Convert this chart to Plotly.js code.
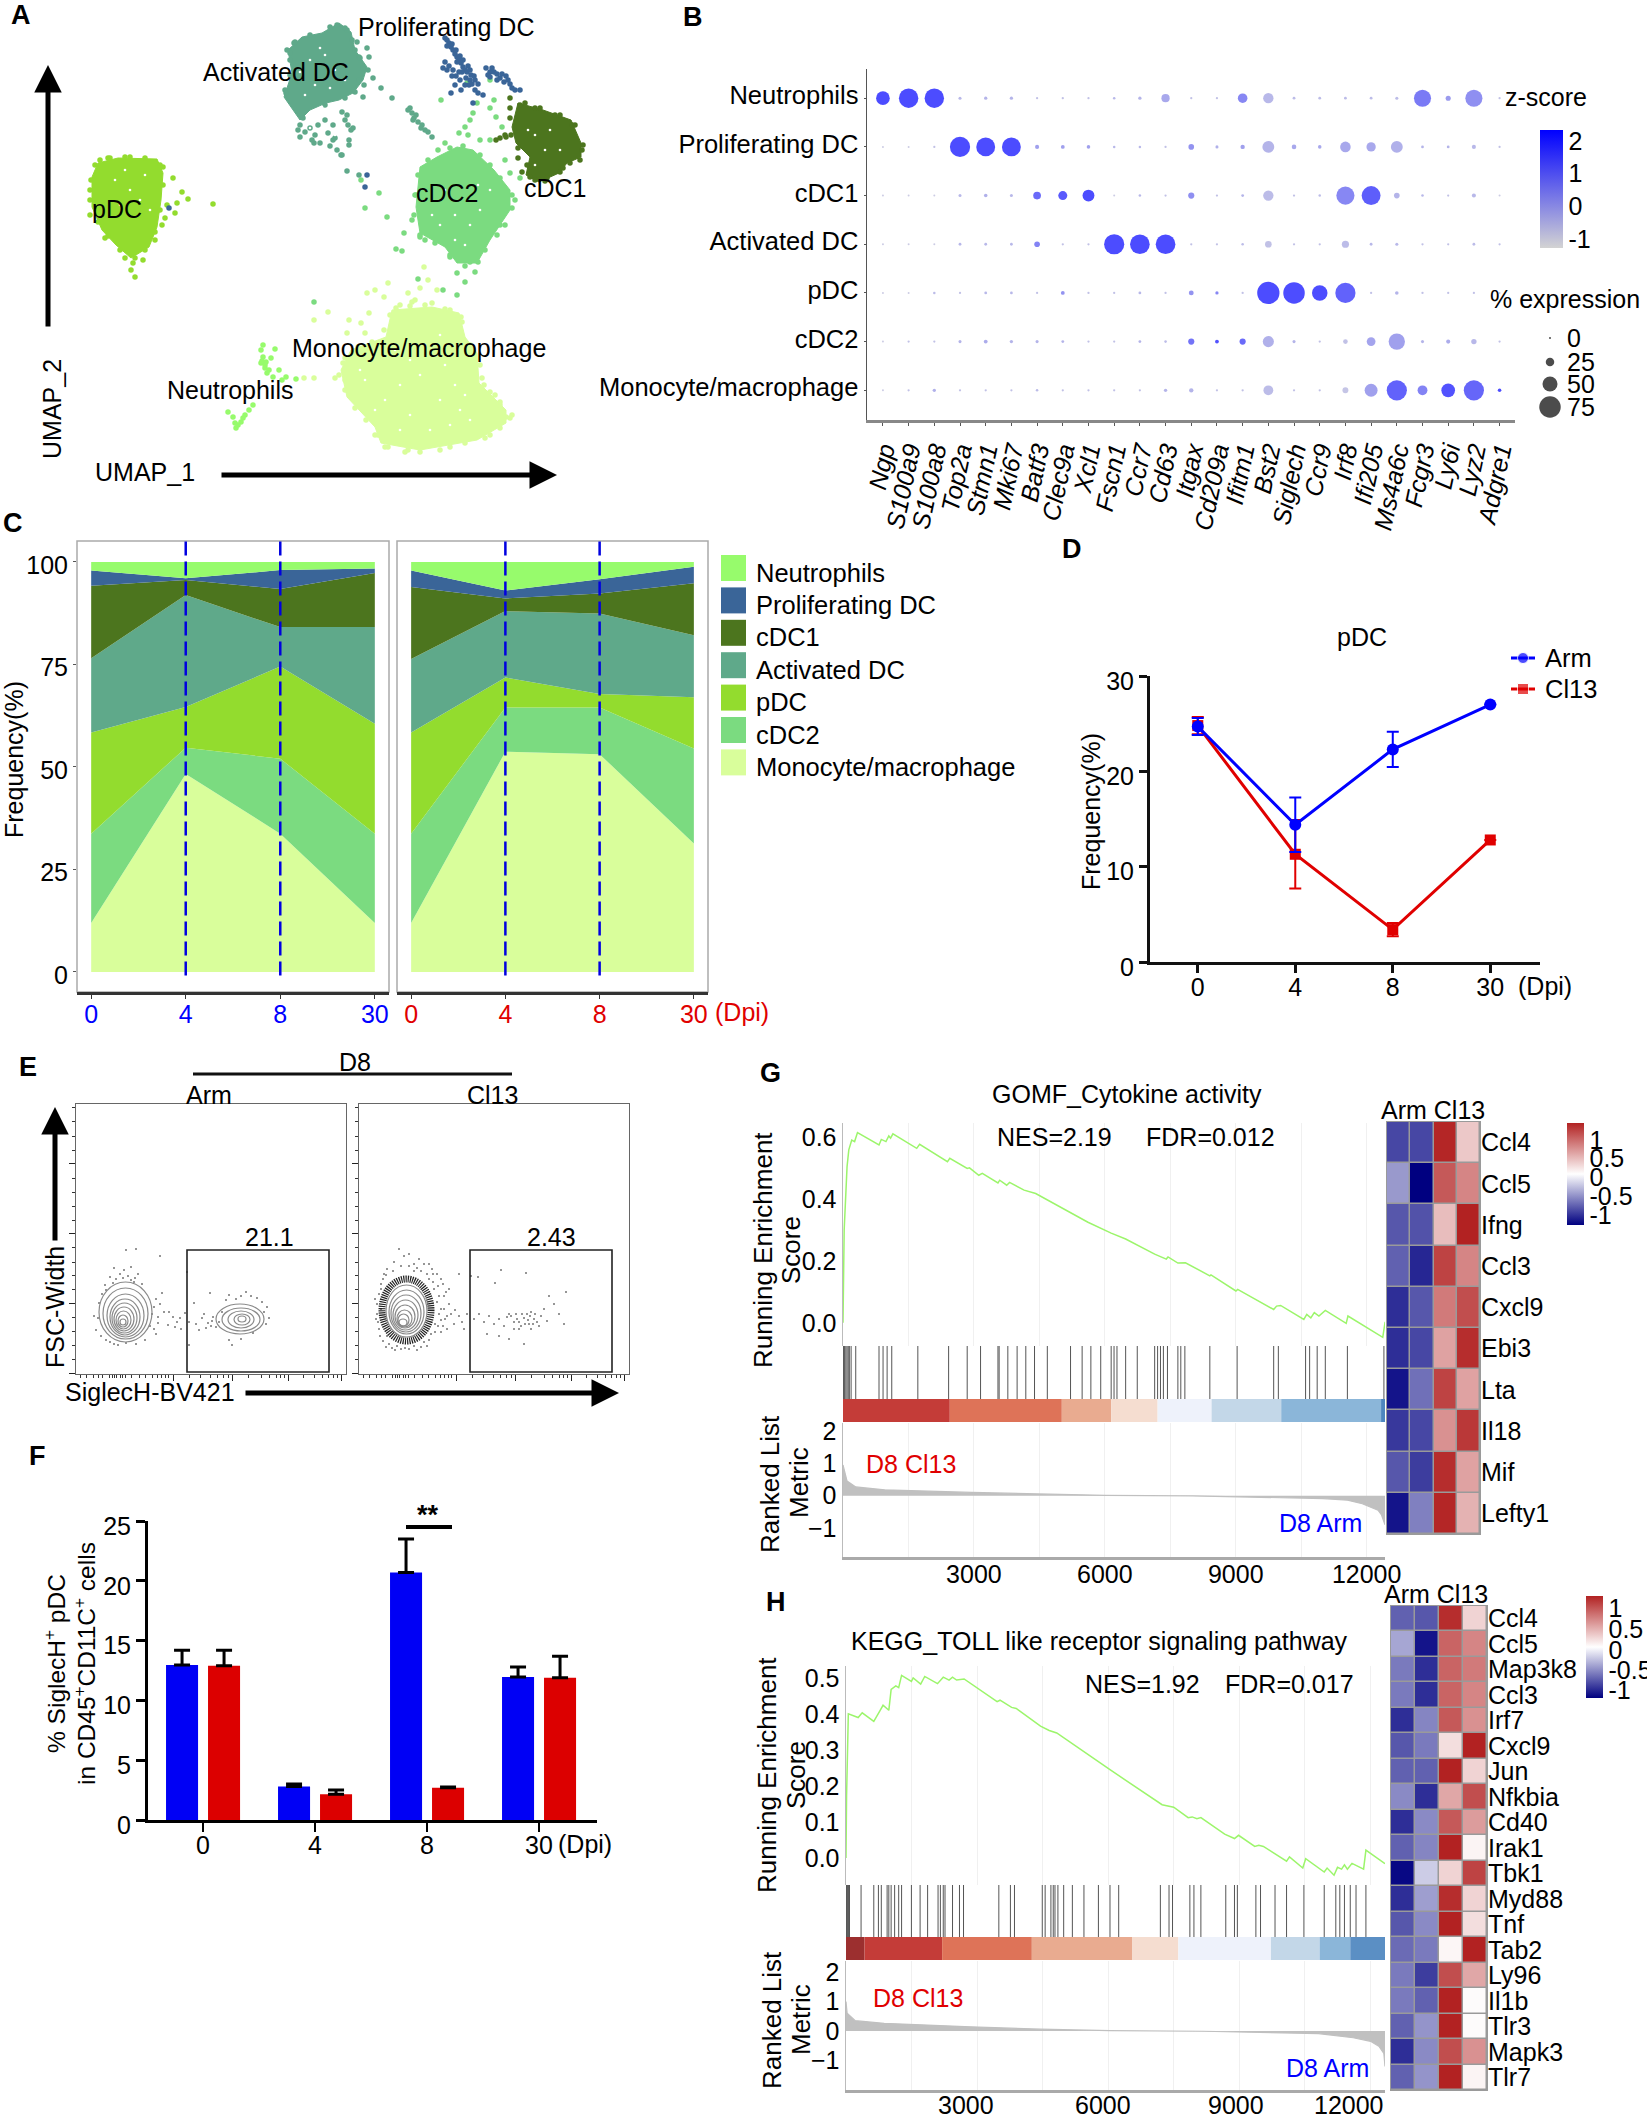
<!DOCTYPE html>
<html>
<head>
<meta charset="utf-8">
<script src="https://cdn.plot.ly/plotly-3.0.1.min.js"></script>
<style>body{margin:0;background:#fff}</style>
</head>
<body>
<div id="fig" style="width:1647px;height:2115px"></div>
<script>
// panel A, umap clusters (outline of the dense part + loose cells)
var clusterNames = ['Neutrophils','Proliferating DC','cDC1','Activated DC','pDC','cDC2','Monocyte/macrophage'];
var clusterColors = ['#97fb6c','#3a6598','#4c751e','#5fa98a','#93dc2e','#7bdb80','#d9fe9b'];

var monoBody = [[392,310],[432,307],[459,313],[465,337],[477,353],[479,383],[506,410],[506,423],[477,440],[420,450],[381,443],[375,427],[347,397],[341,370],[351,350],[386,337]];
var monoCells = [[424,267],[428,280],[420,288],[408,293],[412,302],[388,283],[375,290],[367,293],[384,297],[369,313],[349,320],[347,333],[361,323],[335,378],[314,378],[304,378],[328,312],[314,320],[437,290],[500,405],[506,417],[408,450],[420,452],[388,447],[351,393],[343,363],[365,333],[390,315],[461,317],[400,305],[415,300],[432,303],[450,310],[470,345],[484,385],[495,395],[512,415],[490,435],[450,447],[375,435],[345,380],
  [396,308],[410,306],[425,305],[445,309],[462,322],[468,345],[480,365],[482,378],[490,392],[500,402],[510,418],[500,428],[485,438],[465,443],[440,450],[405,452],[385,447],[378,435],[366,420],[355,408],[345,390],[339,375],[345,358],[358,347],[372,342],[384,330]];
var cdc2Body = [[457,147],[473,150],[494,170],[510,190],[510,210],[490,240],[477,263],[457,263],[445,247],[420,233],[416,207],[420,167],[437,157]];
var cdc2Cells = [[465,127],[473,113],[477,103],[459,133],[445,143],[490,140],[496,117],[502,127],[510,173],[520,178],[379,193],[365,208],[387,217],[404,233],[420,237],[396,249],[402,251],[457,273],[465,282],[443,290],[457,295],[418,279],[314,302],[361,180],[490,80],[467,83],[490,108],[441,100],[494,100],[470,120],[468,135],[480,140],[515,200],[505,225],[497,235],[475,272],[470,262],[415,195],[412,220],[425,240],[450,257],[438,150],[505,160],
  [450,148],[463,146],[480,155],[490,165],[500,178],[512,195],[512,208],[500,225],[485,250],[478,262],[465,266],[450,255],[435,243],[420,235],[414,215],[416,195],[418,175],[428,160]];
var pdcBody = [[98,163],[118,158],[157,159],[163,173],[161,200],[157,227],[149,247],[131,258],[116,245],[102,230],[92,207],[92,177]];
var pdcCells = [[163,167],[173,178],[182,192],[188,199],[177,203],[167,205],[213,204],[175,213],[165,218],[143,260],[133,263],[131,270],[135,277],[100,160],[108,158],[130,157],[90,190],[90,215],[105,238],[162,225],[155,240],[125,258],
  [95,165],[110,158],[125,157],[145,158],[160,165],[163,185],[160,210],[155,232],[145,250],[135,258],[120,250],[108,236],[98,222],[90,200],[91,180]];
var activatedBody = [[339,23],[351,32],[355,50],[367,67],[363,80],[353,93],[339,100],[326,103],[310,110],[300,120],[284,97],[292,73],[288,50],[302,37],[322,33]];
var activatedCells = [[337,25],[347,30],[357,42],[367,48],[359,57],[369,57],[363,68],[359,80],[373,78],[381,88],[392,98],[363,97],[410,108],[416,115],[422,125],[428,132],[432,137],[347,115],[353,128],[349,145],[341,155],[347,171],[294,43],[290,53],[286,93],[300,137],[314,143],[333,140],[355,50],[408,110],[412,113],[414,118],[418,122],[421,128],[425,130],[413,120],[359,175],
  [300,125],[305,132],[312,140],[320,143],[330,146],[337,150],[342,155],[318,125],[325,120],[333,125],[328,133],[335,138],[345,120],[351,130],[349,140],[342,112],[348,125],[303,118],[310,128],[315,135],[298,130],
  [330,27],[345,28],[352,40],[360,58],[368,70],[364,85],[355,92],[345,98],[325,105],[285,90],[290,75],[290,60],[287,50],[295,42],[310,35]];
var cdc1Body = [[518,103],[543,110],[571,120],[581,143],[581,157],[567,163],[559,173],[539,182],[526,175],[530,157],[516,143],[512,127]];
var cdc1Cells = [[510,98],[510,108],[506,137],[496,140],[518,158],[530,167],[563,168],[547,178],[530,177],[520,105],[535,108],[555,115],[572,125],[582,150],[505,135],[500,138],[522,172],
  [525,103],[540,108],[560,115],[575,125],[583,145],[580,160],[570,163],[560,172],[545,181],[535,180],[527,165],[518,148],[511,135],[510,118]];
var prolifCells = [[445,38],[449,43],[453,50],[457,57],[461,63],[465,70],[471,75],[475,80],[445,62],[443,68],[453,70],[459,72],[469,85],[461,90],[451,93],[475,90],[483,95],[473,103],[486,68],[494,72],[500,78],[508,80],[512,88],[520,90],[490,77],[367,175],[365,187],[169,208],[447,40],[451,47],[455,54],[459,60],[463,67],[467,72],[470,80],[449,66],[456,76],[465,85],[490,72],[497,74],[504,82],
  [447,46],[452,44],[456,50],[460,56],[457,62],[463,60],[468,66],[462,72],[470,70],[474,76],[478,84],[447,70],[452,76],[460,80],[466,78],[472,84],[488,75],[492,68],[497,80],[502,74],[506,76],[510,84],[515,90],[455,85],[478,93]];
var neutroCells = [[261,350],[263,357],[261,363],[265,368],[267,373],[273,377],[279,370],[282,380],[271,358],[275,349],[286,377],[296,379],[228,412],[233,417],[236,428],[241,422],[245,415],[249,410],[253,405],[238,425],[265,365],[269,370],[263,345],[262,361],[266,362],[235,423],[243,418]];
// white specks left open inside the dense parts
var umapGaps = [[320,48],[310,60],[325,55],[335,70],[300,72],[315,85],[345,80],[330,88],[305,95],[322,107],[330,115],[338,122],[318,118],[325,130],[335,135],[310,128],[342,105],[345,135],
  [400,385],[420,375],[440,400],[460,410],[470,420],[430,430],[410,360],[445,365],[385,400],[455,385],[395,350],[365,380],[375,410],[425,345],[440,335],[410,415],[465,395],[450,425],[400,430],[360,370],
  [455,215],[470,225],[440,225],[480,210],[465,245],[445,190],[490,190],[478,185],[432,215],[455,240],
  [115,180],[130,190],[145,175],[120,205],[140,200],[125,170],[150,210],
  [535,135],[550,130],[560,150],[535,165],[545,150],[528,130]];

// panel B, dot plot
var dotRows = ['Neutrophils','Proliferating DC','cDC1','Activated DC','pDC','cDC2','Monocyte/macrophage'];
var dotGenes = ['Ngp','S100a9','S100a8','Top2a','Stmn1','Mki67','Batf3','Clec9a','Xcl1','Fscn1','Ccr7','Cd63','Itgax','Cd209a','Ifitm1','Bst2','Siglech','Ccr9','Irf8','Ifi205','Ms4a6c','Fcgr3','Ly6i','Lyz2','Adgre1'];
var dotPct = [
  [45,67,67,4,5,5,1,1,1,2,5,24,1,1,29,32,3,3,3,3,4,58,12,58,1],
  [0,0,1,70,65,65,8,7,6,2,2,1,14,4,9,38,10,6,33,28,38,3,3,8,1],
  [0,0,0,4,6,4,22,27,38,0,2,1,16,1,3,32,1,2,62,65,14,2,1,8,0],
  [0,0,0,3,3,3,14,1,1,70,68,68,1,1,2,18,1,1,20,3,4,1,1,3,1],
  [0,0,2,1,3,3,1,7,1,1,3,1,11,5,1,78,75,52,70,1,6,1,1,1,0],
  [0,1,1,4,7,5,4,3,1,1,3,2,16,7,16,35,4,1,10,26,55,4,8,13,1],
  [0,1,5,1,1,1,2,1,1,1,1,5,9,1,1,30,1,1,15,42,70,30,45,70,6]
];
var dotZ = [
  [2.33,2.33,2.33,-.3,-.2,-.2,-.5,-.5,-.5,-.3,-.2,.1,-.5,-.5,.9,-.3,-.4,-.4,-.4,-.4,-.4,1.2,.4,.7,-.5],
  [-.8,-.8,-.5,2.33,2.33,2.33,.3,.3,.3,-.3,-.3,-.5,.6,-.1,.3,-.2,.1,.1,.1,.1,-.1,-.2,-.2,-.3,-.5],
  [-.8,-.8,-.8,-.3,-.1,-.3,1.6,2.0,2.3,-.8,-.3,-.5,.7,-.5,-.2,-.4,-.5,-.4,.9,1.9,-.2,-.3,-.5,-.3,-.8],
  [-.8,-.8,-.8,-.3,-.3,-.3,1.0,-.5,-.5,2.33,2.33,2.33,-.5,-.5,-.4,-.5,-.5,-.5,-.4,-.3,-.3,-.5,-.5,-.4,-.5],
  [-.8,-.8,-.4,-.5,-.3,-.3,-.5,.6,-.5,-.5,-.3,-.5,.6,.9,-.5,2.33,2.3,2.3,1.8,-.5,-.2,-.5,-.5,-.5,-.8],
  [-.8,-.5,-.5,-.2,0,-.2,-.2,-.2,-.5,-.5,-.2,-.4,1.4,2.2,1.6,-.1,-.2,-.5,-.5,.2,.3,-.2,0,-.3,-.5],
  [-.8,-.5,-.1,-.5,-.5,-.5,-.4,-.5,-.5,-.5,-.5,-.2,-.2,-.5,-.5,-.4,-.5,-.5,-.6,.3,1.8,1.0,2.2,1.7,2.3]
];
var sizeLegendPct = [0,25,50,75];

// panel C, stacked frequency (bottom series first)
var stackDays = ['0','4','8','30'];
var stackOrder = ['Monocyte/macrophage','cDC2','pDC','Activated DC','cDC1','Proliferating DC','Neutrophils'];
var stackColors = ['#d9fe9b','#7bdb80','#93dc2e','#5fa98a','#4c751e','#3a6598','#97fb6c'];
var stackArm = [
  [11.9,48.3,33.7,11.9],
  [21.8,6.4,18.3,21.8],
  [24.7,9.9,22.5,26.8],
  [18.1,27.3,9.6,23.6],
  [17.7,3.7,9.3,13.2],
  [3.7,0.4,4.6,1.1],
  [2.1,4.0,2.0,1.6]
];
var stackCl13 = [
  [11.9,53.7,53.1,31.3],
  [21.8,10.8,11.4,23.2],
  [24.7,7.3,3.3,12.5],
  [17.9,16.2,19.6,15.1],
  [17.6,3.1,4.9,12.7],
  [4.0,1.9,3.5,4.0],
  [2.1,7.0,4.2,1.2]
];

// panel D
var lineArm = [24.7,14.4,22.3,27.0];
var lineArmErr = [0.9,2.85,1.85,0];
var lineCl13 = [24.8,11.3,3.4,12.8];
var lineCl13Err = [0.9,3.6,0.7,0];

// panel E, contour rings as [x0,x1,y0,y1] and single events
var armContours = [[23,76,32,92],[27,72,35,86],[31,68,37,80],[34,64,39,75],[36,61,41,71],[38,58,43,67],[40,55,45,63],[42,52,47,59],[44,50,49,55],
  [140,188,40,70],[146,184,43,66],[152,178,46,63],[158,174,49,60],[162,170,52,58]];
var cl13Contours = [[27,68,37,89],[30,65,40,84],[32,62,42,79],[34,59,44,74],[36,56,46,69],[38,53,47,64],[39,50,48,60],[40,48,48,55]];
var armEvents = [[50,124],[60,125],[84,118],[38,106],[34,97],[48,104],[55,107],[59,96],[58,92],[29,89],[23,71],[20,44],[34,32],[50,31],[69,34],[78,67],[82,57],[86,81],[82,51],[97,57],[92,49],[101,52],[109,61],[113,52],[126,56],[132,51],[137,57],[140,47],[118,71],[134,81],[153,79],[170,82],[181,76],[193,56],[191,67],[153,34],[156,29],[113,29],[111,102],[177,41],[44,100],[52,98],[62,100],[40,95],[66,90],[26,80],[18,58],[25,38],[42,29],[60,30],[78,45],[80,75],[88,62],[105,45],[120,50],[128,60],[135,48],[160,75],[175,78],[186,72],[190,50],[165,35],[47,96],[55,94],[37,91],[30,84],[76,60],[74,48],[80,40],[38,30],[30,34],[22,56],[84,70],[93,62],[99,47],[104,56],[123,44],[130,46],[136,53],[143,52],[146,62],[150,74],[165,78],[188,62]];
var cl13Events = [[16,75],[18,60],[20,45],[22,90],[25,100],[28,38],[30,30],[38,28],[46,26],[55,28],[65,32],[72,40],[76,50],[80,60],[78,72],[75,85],[70,95],[62,103],[55,110],[45,118],[40,125],[35,112],[28,105],[85,78],[90,70],[92,60],[95,50],[100,58],[88,45],[84,90],[78,100],[70,110],[60,115],[90,85],[100,100],[105,45],[115,55],[120,60],[125,52],[130,58],[135,50],[140,55],[145,48],[148,57],[150,60],[155,52],[158,55],[162,48],[165,56],[168,60],[170,50],[172,62],[175,55],[178,52],[180,48],[182,58],[185,65],[188,53],[195,70],[200,60],[207,82],[190,78],[205,50],[150,35],[128,40],[140,38],[165,30],[142,104],[167,101],[136,91],[112,98],[119,97],[82,65],[86,55],[96,64],[103,52],[108,60],[82,42],[74,100],[50,120],[24,95],[19,52],[36,24],[58,24],[68,28],
  [18,70],[20,80],[22,65],[17,55],[21,38],[24,33],[27,27],[33,26],[42,25],[50,25],[62,27],[70,34],[76,42],[79,48],[82,54],[80,78],[79,88],[74,92],[68,100],[58,106],[50,108],[42,108],[34,103],[27,99],[22,85],[85,65],[88,58],[84,48],[87,82],[82,95],[73,105],[65,110],[55,103],[152,58],[157,60],[160,52],[163,60],[166,50],[169,54],[171,58],[174,50],[176,60],[160,45],[172,45],[155,45]];
var flowMajorY = [1,71,141,211];
var flowMinorY = [15,29,43,57,85,99,112,127,154,168,182,196,224,238,253,267];
var flowMajorX = [97,156,212,265];
var flowMinorX = [4,10,17,22,26,33,36,38,40,44,46,49,55,63,69,76,81,85,89,92,113,124,134,141,147,152,172,185,193,200,204,208,227,238,246,252,257,261];

// panel F
var barDays = ['0','4','8','30'];
var barArm = [12.95,2.8,20.7,11.95];
var barArmErr = [1.25,0.2,2.8,0.85];
var barCl13 = [12.9,2.15,2.7,11.9];
var barCl13Err = [1.3,0.35,0.05,1.8];

// panel G
var gseaTicks = [1500,3000,4500,6000,7500,9000,10500,12000];
var gseaTickText = ['','3000','','6000','','9000','','12000'];
var gesX = [0,27,93,133,200,266,332,825,878,984,1050,1090,1144,1689,1756,2394,2447,2846,2899,3112,3192,3551,3591,3751,3817,4150,4416,5613,6145,6477,7142,7408,7448,7674,7847,8406,8432,9004,9044,9869,9935,10028,10560,10627,10720,10800,10906,11052,11531,11571,12369,12422];
var gesY = [0,.30,.505,.559,.591,.586,.615,.575,.593,.586,.604,.597,.611,.564,.577,.521,.532,.499,.501,.477,.483,.452,.461,.445,.454,.429,.418,.325,.290,.271,.222,.206,.213,.193,.194,.152,.155,.103,.108,.043,.054,.056,.011,.027,.016,.033,.022,.040,-.002,.022,-.047,.003];
var gRug = [13,27,40,66,93,120,146,186,292,825,918,1011,1117,1715,2420,2846,3152,3551,3578,3777,3990,4189,4389,4682,5214,5480,5680,5906,6145,6211,6278,6477,6743,7142,7209,7275,7342,7435,7674,7741,7834,8406,9031,9869,9976,10600,10693,10866,11052,11558,12395];
var gBandEdges = [0,2447,5014,6145,7209,8446,10042,12330,12420];
var gBandColors = ['#c43c38','#de7358','#e9ab90','#f5ddd0','#eef2fb','#c3d7e8','#8bb6d9','#4d86bf'];
var gRankX = [0,93,293,958,2952,4549,6012,8000,10000,11000,11560,11900,12260,12340,12420];
var gRankY = [.95,.45,.27,.18,.1,.05,.01,-.01,-.05,-.09,-.14,-.25,-.45,-.6,-.9];
var gHeatGenes = ['Ccl4','Ccl5','Ifng','Ccl3','Cxcl9','Ebi3','Lta','Il18','Mif','Lefty1'];
var gHeat = [
  [-.72,-.72,.98,.25],
  [-.4,-1,.75,.55],
  [-.66,-.68,.3,1],
  [-.62,-.85,.85,.55],
  [-.82,-.66,.6,.8],
  [-.82,-.72,.42,.95],
  [-.92,-.56,.85,.42],
  [-.78,-.72,.5,.9],
  [-.66,-.76,.95,.42],
  [-.92,-.5,.98,.35]
];

// panel H
var hesX = [0,13,53,278,371,636,782,848,980,1033,1140,1206,1272,1497,1537,1709,1802,2094,2226,2359,2438,2531,2703,3458,3525,3790,3896,4452,4651,4823,6042,7234,7500,7831,7924,8030,8122,8666,8891,8984,9355,9447,9553,10083,10150,10454,10521,10945,11011,11170,11249,11342,11408,11475,11581,11846,11899,12336];
var hesY = [0,.172,.40,.39,.403,.379,.41,.424,.41,.468,.478,.473,.507,.49,.5,.483,.504,.484,.502,.494,.502,.494,.497,.434,.438,.418,.415,.366,.354,.347,.245,.148,.141,.112,.114,.109,.112,.066,.054,.063,.032,.035,.032,-.009,.003,-.028,-.002,-.039,-.028,-.048,-.026,-.031,-.019,-.031,-.015,-.031,.022,-.016];
var hRug = [0,13,26,40,53,66,80,345,636,742,808,941,980,1033,1113,1206,1272,1497,1696,1868,2107,2160,2226,2266,2438,2597,2690,3498,3763,3856,4492,4558,4690,4743,4783,4850,4982,5181,5446,5777,6042,6241,7195,7393,7473,7870,7963,8122,8692,8891,8957,9381,9487,9819,10083,10480,10945,11210,11302,11408,11541,11673,11899];
var hBandEdges = [0,424,2200,4253,6546,7606,9726,10839,11541,12336];
var hBandColors = ['#9c2f2f','#c43c38','#de7358','#e9ab90','#f5ddd0','#eef2fb','#c3d7e8','#8bb6d9','#5b8fc4'];
var hRankX = [0,26,212,874,2862,4452,6042,8162,10812,11607,12005,12203,12309,12336];
var hRankY = [1,.6,.35,.26,.14,.06,.01,-.01,-.09,-.23,-.35,-.53,-.76,-1.2];
var hHeatGenes = ['Ccl4','Ccl5','Map3k8','Ccl3','Irf7','Cxcl9','Jun','Nfkbia','Cd40','Irak1','Tbk1','Myd88','Tnf','Tab2','Ly96','Il1b','Tlr3','Mapk3','Tlr7'];
var hHeat = [
  [-.62,-.66,.95,.2],
  [-.35,-.92,.7,.55],
  [-.52,-.82,.7,.6],
  [-.52,-.82,.7,.55],
  [-.82,-.48,.75,.5],
  [-.66,-.52,.15,1],
  [-.62,-.62,1,.2],
  [-.46,-.82,.4,.8],
  [-.82,-.46,.75,.45],
  [-.62,-.48,1,.05],
  [-.97,-.2,.2,.85],
  [-.82,-.38,.95,.2],
  [-.66,-.46,1,.15],
  [-.58,-.52,.04,1],
  [-.52,-.76,.8,.4],
  [-.52,-.62,1,.02],
  [-.62,-.42,1,.02],
  [-.82,-.46,.8,.5],
  [-.62,-.42,1,.05]
];

var W = 1647, H = 2115;
var FONT = 'Liberation Sans, Arial, sans-serif';
var traces = [], shapes = [], notes = [];
var layout = {
  width: W, height: H,
  margin: {l:0, r:0, t:0, b:0},
  paper_bgcolor: '#fff',
  plot_bgcolor: 'rgba(0,0,0,0)',
  font: {family: FONT, size: 25, color: '#000'},
  showlegend: false,
  hovermode: false
};

function place(n, l, r, t, b, xopt, yopt) {
  layout['xaxis'+n] = Object.assign({domain:[l/W,r/W], anchor:'y'+n, showgrid:false, zeroline:false, showline:false, ticks:'', showticklabels:false}, xopt);
  layout['yaxis'+n] = Object.assign({domain:[1-b/H,1-t/H], anchor:'x'+n, showgrid:false, zeroline:false, showline:false, ticks:'', showticklabels:false}, yopt);
}
function add(n, t) {
  t.xaxis = 'x'+n; t.yaxis = 'y'+n;
  t.showlegend = false;
  traces.push(t);
}
function note(text, x, y, o) {
  o = o || {};
  notes.push({text:text, x:x/W, y:1-y/H, xref:'paper', yref:'paper', showarrow:false,
    xanchor:o.anchor||'center', yanchor:'middle', textangle:o.angle||0,
    font:{family:FONT, size:o.size||25, color:o.color||'#000', weight:o.bold?700:400}});
}
function arrow(x0, y0, x1, y1, w) {
  notes.push({text:'', x:x1/W, y:1-y1/H, xref:'paper', yref:'paper', ax:x0-x1, ay:y0-y1, axref:'pixel', ayref:'pixel',
    showarrow:true, arrowhead:2, arrowsize:1.1, arrowwidth:w, arrowcolor:'#000'});
}
function pxRect(x0, y0, x1, y1, o) {
  shapes.push(Object.assign({type:'rect', xref:'paper', yref:'paper', x0:x0/W, x1:x1/W, y0:1-y0/H, y1:1-y1/H}, o));
}
function pxLine(x0, y0, x1, y1, color, w) {
  shapes.push({type:'line', xref:'paper', yref:'paper', x0:x0/W, x1:x1/W, y0:1-y0/H, y1:1-y1/H, line:{color:color, width:w}});
}
function col(a, i) { return a.map(function(p){ return p[i]; }); }

// letters
[['A',21,15],['B',693,17],['C',13,523],['D',1072,549],['E',28,1067],['F',37,1456],['G',770,1073],['H',776,1602]].forEach(function(l){
  note(l[0], l[1], l[2], {bold:true, size:27});
});

// ---- A
place(1, 0, 640, 0, 500, {range:[0,640], visible:false}, {range:[500,0], visible:false});
function body(pts, color) {
  add(1, {x:col(pts,0).concat(pts[0][0]), y:col(pts,1).concat(pts[0][1]), mode:'lines', fill:'toself', fillcolor:color, line:{color:color, width:1}, type:'scatter'});
}
function cells(pts, color) {
  add(1, {x:col(pts,0), y:col(pts,1), mode:'markers', marker:{color:color, size:5.5}, type:'scatter'});
}
body(monoBody, clusterColors[6]); cells(monoCells, clusterColors[6]);
body(cdc2Body, clusterColors[5]); cells(cdc2Cells, clusterColors[5]);
body(pdcBody, clusterColors[4]); cells(pdcCells, clusterColors[4]);
body(activatedBody, clusterColors[3]); cells(activatedCells, clusterColors[3]);
body(cdc1Body, clusterColors[2]); cells(cdc1Cells, clusterColors[2]);
cells(prolifCells, clusterColors[1]);
cells(neutroCells, clusterColors[0]);
add(1, {type:'scatter', x:col(umapGaps,0), y:col(umapGaps,1), mode:'markers', marker:{color:'#fff', size:2.6}});
note('pDC',117,209); note('Activated DC',276,72); note('Proliferating DC',446,27);
note('cDC2',448,193); note('cDC1',555,188); note('Monocyte/macrophage',419,348); note('Neutrophils',230,390);
note('UMAP_2',52,409,{angle:-90}); note('UMAP_1',145,472);
arrow(48,328,48,65,5); arrow(220,475,557,475,5);

// ---- B
place(2, 867, 1515, 69, 420,
  {range:[-.62,24.6], showline:true, linecolor:'#888', linewidth:3, ticks:'outside', ticklen:3, tickcolor:'#555',
   tickmode:'array', tickvals:dotGenes.map(function(g,i){return i;}), ticktext:dotGenes, showticklabels:true, tickangle:-78,
   tickfont:{size:25, style:'italic'}},
  {range:[6.61,-.6], showline:true, linecolor:'#555', linewidth:1.5, ticks:'outside', ticklen:2, tickcolor:'#555',
   tickmode:'array', tickvals:dotRows.map(function(g,i){return i;}), ticktext:dotRows, showticklabels:true, tickfont:{size:25.5}, ticklabelshift:3});
var bx = [], by = [], bs = [], bc = [];
dotRows.forEach(function(r,i){ dotGenes.forEach(function(g,j){
  bx.push(j); by.push(i); bs.push(2+dotPct[i][j]*0.26); bc.push(dotZ[i][j]);
}); });
add(2, {type:'scatter', x:bx, y:by, mode:'markers', marker:{size:bs, color:bc, cmin:-1.27, cmax:2.33, line:{width:0},
  colorscale:[[0,'#d3d3d3'],[1,'#0000ff']], showscale:true,
  colorbar:{x:1540/W, xanchor:'left', y:1-130/H, yanchor:'top', len:118, lenmode:'pixels', thickness:23, thicknessmode:'pixels',
    tickmode:'array', tickvals:[-1,0,1,2], ticktext:['-1','0','1','2'], ticks:'', outlinewidth:0, xpad:0, ypad:0, tickfont:{size:25}}}});
note('z-score',1546,97); note('% expression',1565,299);

// page wide helper axes for the size key and the line key
place(17, 0, W, 0, H, {range:[0,W], visible:false}, {range:[H,0], visible:false});
add(17, {type:'scatter', x:sizeLegendPct.map(function(){return 1550;}), y:[338,362,384,407], mode:'markers',
  marker:{color:'#000', size:sizeLegendPct.map(function(p){return 2+p*0.26;}), line:{width:0}}});
sizeLegendPct.forEach(function(p,i){ note(String(p),1565,[338,362,384,407][i],{anchor:'left'}); });

// ---- C
var stackX = [0,1,2,3];
function stackPanel(n, l, r, vals, group, tickColor, showY) {
  place(n, l, r, 541, 992,
    {range:[-.15,3.15], showline:true, linecolor:'#333', linewidth:3, ticks:'outside', ticklen:4, tickcolor:'#333',
     tickmode:'array', tickvals:stackX, ticktext:stackDays, showticklabels:true, tickfont:{size:25, color:tickColor}, ticklabelstandoff:-6},
    {range:[-4.9,105.1], ticks:showY?'outside':'', ticklen:3, tickcolor:'#555', tickmode:'array', tickvals:[0,25,50,75,100], showticklabels:showY, tickfont:{size:25}, ticklabelshift:3});
  pxRect(l, 541, r, 992, {line:{color:'#aaa', width:1.5}, layer:'below'});
  stackOrder.forEach(function(name,i){
    add(n, {type:'scatter', x:stackX, y:vals[i], stackgroup:group, mode:'none', fillcolor:stackColors[i], name:name});
  });
  [1,2].forEach(function(d){
    add(n, {type:'scatter', x:[d,d], y:[105,-2.3], mode:'lines', line:{color:'#0000e0', width:2.5, dash:'14px,6px'}, cliponaxis:false});
  });
}
stackPanel(3, 77, 389, stackArm, 'arm', '#0000ff', true);
stackPanel(4, 397, 708, stackCl13, 'cl13', '#e00000', false);
note('Frequency(%)',14,760,{angle:-90});
note('(Dpi)',742,1012,{color:'#e00000'});
clusterNames.forEach(function(name,i){
  var t = 555+i*32.4;
  pxRect(721, t, 746, t+26, {fillcolor:clusterColors[i], line:{width:0}});
  note(name, 754, t+17.5, {anchor:'left', size:25.5});
});

// ---- D
var lineX = [0,1,2,3];
place(5, 1150, 1540, 676, 962,
  {range:[-.49,3.51], showline:true, linecolor:'#111', linewidth:3, ticks:'outside', ticklen:8, tickwidth:3, tickcolor:'#111',
   tickmode:'array', tickvals:lineX, ticktext:stackDays, showticklabels:true, tickfont:{size:25}, ticklabelstandoff:-7},
  {range:[0,30], showline:true, linecolor:'#111', linewidth:3, ticks:'outside', ticklen:8, tickwidth:3, tickcolor:'#111',
   tickmode:'array', tickvals:[0,10,20,30], showticklabels:true, tickfont:{size:25}, ticklabelshift:5});
add(5, {type:'scatter', name:'Cl13', x:lineX, y:lineCl13, mode:'lines+markers', cliponaxis:false,
  line:{color:'#e00000', width:3}, marker:{color:'#e00000', symbol:'square', size:11},
  error_y:{type:'data', array:lineCl13Err, visible:true, color:'#e00000', thickness:2, width:6}});
add(5, {type:'scatter', name:'Arm', x:lineX, y:lineArm, mode:'lines+markers', cliponaxis:false,
  line:{color:'#0000ff', width:3}, marker:{color:'#0000ff', symbol:'circle', size:12},
  error_y:{type:'data', array:lineArmErr, visible:true, color:'#0000ff', thickness:2, width:6}});
[['Arm','#0000ff','circle',658],['Cl13','#e00000','square',689]].forEach(function(k){
  add(17, {type:'scatter', x:[1511,1523,1535], y:[k[3],k[3],k[3]], mode:'lines+markers', line:{color:k[1], width:3},
    marker:{color:k[1], symbol:k[2], size:[0,11,0]}});
  note(k[0], 1543, k[3], {anchor:'left', size:25.5});
});
note('pDC',1362,637); note('Frequency(%)',1091,812,{angle:-90}); note('(Dpi)',1545,986);

// ---- E
function flowPanel(n, l, r, contours, events) {
  var minorOf = function(v){ return {tickmode:'array', tickvals:v, ticks:'outside', ticklen:3, tickcolor:'#333', tickwidth:1, showgrid:false}; };
  place(n, l, r, 1104, 1374,
    {range:[0,270], showline:true, mirror:true, linecolor:'#666', linewidth:1.2, ticks:'outside', ticklen:6, tickcolor:'#222', tickmode:'array', tickvals:flowMajorX, minor:minorOf(flowMinorX)},
    {range:[0,270], showline:true, mirror:true, linecolor:'#666', linewidth:1.2, ticks:'outside', ticklen:6, tickcolor:'#222', tickmode:'array', tickvals:flowMajorY, minor:minorOf(flowMinorY)});
  add(n, {type:'scatter', x:col(events,0), y:col(events,1), mode:'markers', marker:{color:'#111', size:1.6}});
  contours.forEach(function(c){
    shapes.push({type:'circle', xref:'x'+n, yref:'y'+n, x0:c[0], x1:c[1], y0:c[2], y1:c[3], line:{color:'#8a8a8a', width:1.2}});
  });
  shapes.push({type:'rect', xref:'x'+n, yref:'y'+n, x0:111, x1:253, y0:2, y1:124, line:{color:'#222', width:1.6}});
}
shapes.push({type:'circle', xref:'x7', yref:'y7', x0:23, x1:72, y0:33, y1:95, fillcolor:'#fff', layer:'below', line:{color:'#222', width:7, dash:'1.2px,1px'}});
flowPanel(6, 76, 346, armContours, armEvents);
flowPanel(7, 359, 629, cl13Contours, cl13Events);
note('D8',355,1062); pxLine(193,1074,512,1074,'#111',3);
note('Arm',209,1095); note('Cl13',492,1095);
note('21.1',269,1237); note('2.43',551,1237);
note('FSC-Width',55,1307,{angle:-90});
note('SiglecH-BV421',150,1392);
arrow(55,1242,55,1107,5); arrow(244,1393,619,1393,5);

// ---- F
var barX = [0,1,2,3];
place(8, 148, 597, 1521, 1820,
  {range:[-.491,3.518], showline:true, linecolor:'#000', linewidth:3, ticks:'outside', ticklen:9, tickwidth:2.5, tickcolor:'#000',
   tickmode:'array', tickvals:barX, ticktext:barDays, showticklabels:true, tickfont:{size:25}, ticklabelstandoff:-8},
  {range:[0,25], showline:true, linecolor:'#000', linewidth:3, ticks:'outside', ticklen:9, tickwidth:3, tickcolor:'#000',
   tickmode:'array', tickvals:[0,5,10,15,20,25], showticklabels:true, tickfont:{size:25}, ticklabelshift:5});
layout.barmode = 'overlay';
add(8, {type:'bar', x:barX, y:barArm, width:.286, offset:-.33, marker:{color:'#0000f5', line:{width:0}}, cliponaxis:false,
  error_y:{type:'data', symmetric:false, array:barArmErr, arrayminus:[0,0,0,0], visible:true, color:'#000', thickness:3, width:8}});
add(8, {type:'bar', x:barX, y:barCl13, width:.286, offset:.045, marker:{color:'#dc0000', line:{width:0}}, cliponaxis:false,
  error_y:{type:'data', symmetric:false, array:barCl13Err, arrayminus:[0,0,0,0], visible:true, color:'#000', thickness:3, width:8}});
note('% SiglecH<sup>+</sup> pDC',54,1664,{angle:-90, size:24.5});
note('in CD45<sup>+</sup>CD11C<sup>+</sup> cells',84,1664,{angle:-90, size:24.5});
note('**',428,1515,{size:27,bold:true}); pxLine(406,1527,452,1527,'#000',4);
note('(Dpi)',585,1844);

// ---- G and H
function gseaPanel(o) {
  var n = o.n;
  var xBase = {range:[0,o.xmax], showgrid:true, gridcolor:'#f0f0f0', gridwidth:1, tickmode:'array', tickvals:gseaTicks};
  place(n, o.l, o.r, o.esTop, o.esBot, xBase,
    {range:o.esRange, showline:true, linecolor:'#bbb', linewidth:1.5, tickmode:'array', tickvals:o.esTicks, ticktext:o.esText, showticklabels:true, tickfont:{size:25}, ticklen:0});
  add(n, {type:'scatter', x:o.gesX, y:o.gesY, mode:'lines', line:{color:'#9cf56b', width:1.5}});

  place(n+1, o.l, o.r, o.esBot, o.bandBot, {range:[0,o.xmax]}, {range:[0,1]});
  var split = (o.bandBot-o.bandTop)/(o.bandBot-o.esBot);
  var rx = [], ry = [];
  o.rug.forEach(function(v){ rx.push(v,v,null); ry.push(split,1,null); });
  add(n+1, {type:'scatter', x:rx, y:ry, mode:'lines', line:{color:'#555', width:1}});
  o.colors.forEach(function(c,i){
    shapes.push({type:'rect', xref:'x'+(n+1), yref:'y'+(n+1), x0:o.edges[i], x1:o.edges[i+1], y0:0, y1:split, fillcolor:c, line:{width:0}, layer:'below'});
  });

  place(n+2, o.l, o.r, o.bandBot+1, o.rankBot,
    Object.assign({}, xBase, {showline:true, linecolor:'#aaa', linewidth:2.5, ticktext:gseaTickText, showticklabels:o.xLabels, tickfont:{size:25}, ticklabelstandoff:-7}),
    {range:o.rankRange, showline:true, linecolor:'#bbb', linewidth:1.5, tickmode:'array', tickvals:[-1,0,1,2], showticklabels:true, tickfont:{size:25}, ticklen:0});
  add(n+2, {type:'scatter', x:o.rankX, y:o.rankY, mode:'lines', fill:'tozeroy', fillcolor:'#c0c0c0', line:{color:'#c0c0c0', width:1.2}});

  pxRect(o.heatL-1, o.heatT-1, o.heatR+1, o.heatB+1, {fillcolor:'#9a9a9a', line:{width:0}, layer:'below'});
  var rows = o.genes.length;
  place(n+3, o.heatL, o.heatR, o.heatT, o.heatB, {range:[-.5,3.5]},
    {range:[rows-.5,-.5], side:'right', tickmode:'array', tickvals:o.genes.map(function(g,i){return i;}), ticktext:o.genes, showticklabels:true, tickfont:{size:25}, ticklen:0});
  add(n+3, {type:'heatmap', x:[0,1,2,3], y:o.genes.map(function(g,i){return i;}), z:o.heat, zmin:-1, zmax:1, xgap:1.5, ygap:1.5,
    colorscale:[[0,'#000080'],[.5,'#ffffff'],[1,'#b22222']], showscale:true,
    colorbar:{x:o.cbX/W, xanchor:'left', y:1-o.cbTop/H, yanchor:'top', len:o.cbLen, lenmode:'pixels', thickness:17, thicknessmode:'pixels',
      tickmode:'array', tickvals:o.cbVals, ticktext:['1','0.5','0','-0.5','-1'], ticks:'', outlinewidth:0, xpad:0, ypad:0, tickfont:{size:25}}});
}
gseaPanel({n:9, l:843, r:1385, xmax:12420, esTop:1123, esBot:1346, esRange:[-.075,.646],
  esTicks:[0,.2,.4,.6], esText:['0.0','0.2','0.4','0.6'], gesX:gesX, gesY:gesY,
  bandTop:1399, bandBot:1422, rug:gRug, edges:gBandEdges, colors:gBandColors,
  rankBot:1557, rankRange:[-1.9,2.25], rankX:gRankX, rankY:gRankY, xLabels:true,
  heatL:1387, heatR:1480, heatT:1122, heatB:1534, genes:gHeatGenes, heat:gHeat,
  cbX:1567, cbTop:1123, cbLen:102, cbVals:[.667,.31,-.06,-.43,-.8]});
note('GOMF_Cytokine activity',1127,1094); note('NES=2.19',1054,1137); note('FDR=0.012',1210,1137);
note('Running Enrichment',763,1250,{angle:-90,size:26}); note('Score',791,1250,{angle:-90,size:26});
note('Ranked List',770,1484,{angle:-90,size:26}); note('Metric',799,1483,{angle:-90,size:26});
note('D8 Cl13',911,1464,{color:'#e00000'}); note('D8 Arm',1320,1523,{color:'#0000ff'});
note('Arm Cl13',1433,1110);

gseaPanel({n:13, l:846, r:1385, xmax:12336, esTop:1666, esBot:1885, esRange:[-.075,.533],
  esTicks:[0,.1,.2,.3,.4,.5], esText:['0.0','0.1','0.2','0.3','0.4','0.5'], gesX:hesX, gesY:hesY,
  bandTop:1937, bandBot:1960, rug:hRug, edges:hBandEdges, colors:hBandColors,
  rankBot:2090, rankRange:[-2,2.37], rankX:hRankX, rankY:hRankY, xLabels:false,
  heatL:1391, heatR:1487, heatT:1606, heatB:2090, genes:hHeatGenes, heat:hHeat,
  cbX:1586, cbTop:1596, cbLen:102, cbVals:[.76,.35,-.06,-.45,-.84]});
note('KEGG_TOLL like receptor signaling pathway',1099,1641); note('NES=1.92',1142,1684); note('FDR=0.017',1289,1684);
note('Running Enrichment',767,1775,{angle:-90,size:26}); note('Score',796,1775,{angle:-90,size:26});
note('Ranked List',772,2020,{angle:-90,size:26}); note('Metric',801,2020,{angle:-90,size:26});
note('D8 Cl13',918,1998,{color:'#e00000'}); note('D8 Arm',1327,2068,{color:'#0000ff'});
note('Arm Cl13',1436,1594);
note('3000',966,2105); note('6000',1103,2105); note('9000',1236,2105); note('12000',1349,2105);

layout.shapes = shapes;
layout.annotations = notes;
Plotly.newPlot('fig', traces, layout, {displayModeBar:false, staticPlot:true});
</script>
</body>
</html>
